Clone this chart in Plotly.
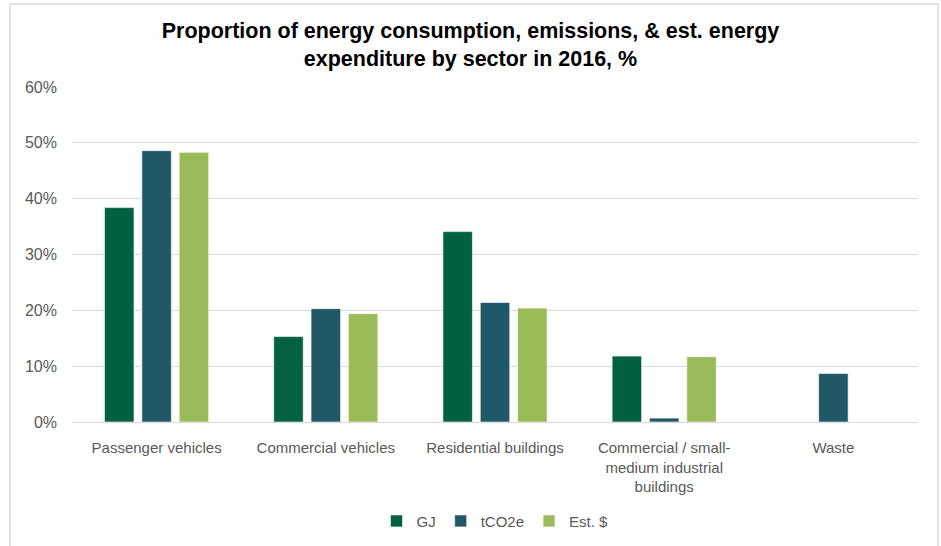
import plotly.graph_objects as go

categories = ["Passenger vehicles", "Commercial vehicles", "Residential buildings",
              "Commercial / small-<br>medium industrial<br>buildings", "Waste"]
gj = [0.384, 0.153, 0.341, 0.118, 0.0]
tco2e = [0.486, 0.203, 0.214, 0.007, 0.087]
est = [0.483, 0.194, 0.204, 0.117, 0.0]
series_names = ["GJ", "tCO2e", "Est. $"]
colors = ["#036141", "#215868", "#9BBB59"]

FONT = "Liberation Sans Narrow, Arial Narrow, Liberation Sans, Arial, sans-serif"

fig = go.Figure()
for name, vals, col in zip(series_names, [gj, tco2e, est], colors):
    fig.add_trace(go.Bar(
        x=categories, y=vals, name=name,
        marker=dict(color=col, line=dict(color="rgba(255,255,255,0.6)", width=1)),
    ))

fig.update_layout(
    width=941, height=546,
    margin=dict(l=72, r=23, t=87, b=124, autoexpand=False),
    paper_bgcolor="white", plot_bgcolor="white",
    barmode="group", bargap=0.338, bargroupgap=0.21,
    title=dict(
        text="<b>Proportion of energy consumption, emissions, & est. energy<br>expenditure by sector in 2016, %</b>",
        x=0.5, xanchor="center", y=0.93, yanchor="middle",
        font=dict(family=FONT, size=21.5, color="#000000"),
    ),
    font=dict(family=FONT, size=15, color="#595959"),
    showlegend=True,
    legend=dict(orientation="h", x=0.5, xanchor="center", y=-0.296, yanchor="middle",
                font=dict(family=FONT, size=15, color="#595959"),
                itemwidth=30, traceorder="normal"),
    xaxis=dict(showgrid=False, showline=False, zeroline=False, ticks="",
               ticklabelstandoff=15, automargin=False,
               tickfont=dict(family=FONT, size=15, color="#595959")),
    yaxis=dict(range=[0, 0.6], dtick=0.1, tickformat=".0%",
               showgrid=True, gridcolor="#d9d9d9", gridwidth=1,
               zeroline=True, zerolinecolor="#d9d9d9", zerolinewidth=1,
               showline=False, ticks="", ticklabelstandoff=14, automargin=False,
               tickfont=dict(family=FONT, size=16, color="#595959")),
    shapes=[dict(type="rect", xref="paper", yref="paper",
                 x0=(10 - 72) / 846, x1=(938 - 72) / 846,
                 y0=-0.5, y1=(422 - 4) / 335,
                 line=dict(color="#d9d9d9", width=1.5), fillcolor="rgba(0,0,0,0)",
                 layer="below")],
)

fig.write_html("out.html")
